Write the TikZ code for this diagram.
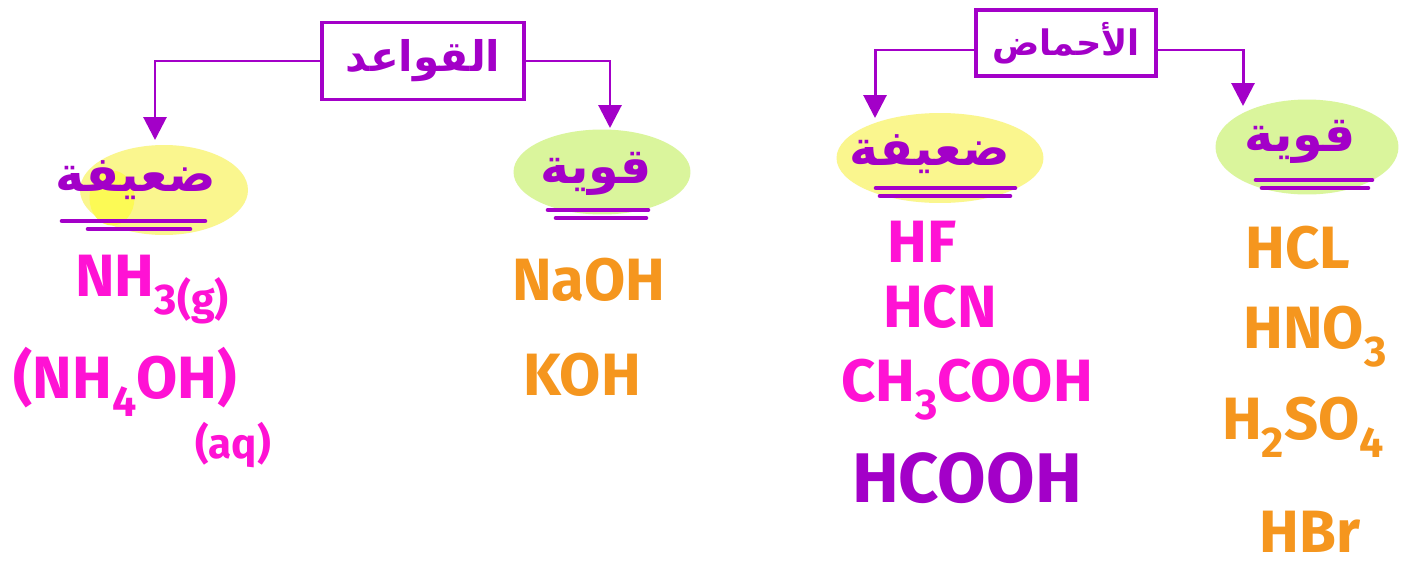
\documentclass[tikz,border=0pt]{standalone}
\usepackage{fontspec}
\setmainfont{Fira Sans}
\newfontfamily\arabicfont[Script=Arabic]{DejaVu Sans}
\TeXXeTstate=1
\usetikzlibrary{arrows.meta,positioning,shapes.geometric}

\definecolor{purpleInk}{HTML}{A300C8}
\definecolor{pinkInk}{HTML}{FF12D4}
\definecolor{orangeInk}{HTML}{F5961E}
\definecolor{yellowMark}{HTML}{FAF68E}
\definecolor{greenMark}{HTML}{DAF59C}

% lowered index for the formulas
\newcommand{\lowIdx}[1]{\raisebox{-0.3em}{\scalebox{0.72}{#1}}}

\tikzset{
	headBox/.style={draw=purpleInk, line width=2pt, text=purpleInk, inner sep=0pt,
		font=\arabicfont\bfseries\fontsize{24}{28}\selectfont},
	markBlob/.style={ellipse, fill=#1, inner sep=0pt},
	kindText/.style={text=purpleInk, inner sep=0pt,
		font=\arabicfont\bfseries\fontsize{28}{32}\selectfont},
	underStroke/.style={purpleInk, line width=2.6pt, line cap=round},
	branch/.style={purpleInk, line width=1.7pt, -{Triangle[length=4.6mm,width=4.6mm]}},
	formula/.style={text=#1, inner sep=0pt, font=\bfseries\fontsize{34}{40}\selectfont},
}

\begin{document}
\begin{tikzpicture}[x=0.02cm, y=-0.02cm]
	
	\useasboundingbox[fill=white] (0,0) rectangle (1404,572);
	
	% the two heads
	\node[headBox, minimum width=4.04cm, minimum height=1.54cm] (bases) at (423,61)
		{\beginR القواعد\endR};
	\node[headBox, minimum width=3.6cm, minimum height=1.32cm,
		font=\arabicfont\bfseries\fontsize{20}{24}\selectfont] (acids) at (1066,43)
		{\beginR الأحماض\endR};
	
	% highlights
	\node[markBlob=yellowMark, minimum width=3.36cm, minimum height=1.8cm] (bWeakMark) at (164,190) {};
	\node[markBlob=yellowMark!60!yellow, minimum width=0.9cm, minimum height=1.1cm] (bWeakSpot) at (112,198) {};
	\node[markBlob=greenMark, minimum width=3.54cm, minimum height=1.7cm] (bStrongMark) at (602,172) {};
	\node[markBlob=yellowMark, minimum width=4.14cm, minimum height=1.8cm] (aWeakMark) at (940,158) {};
	\node[markBlob=greenMark, minimum width=3.66cm, minimum height=1.9cm] (aStrongMark) at (1307,147) {};
	
	% arrow ends
	\coordinate (T1) at (155,140);
	\coordinate (T2) at (610,128);
	\coordinate (T3) at (875,118);
	\coordinate (T4) at (1243,106);
	
	\draw[branch] (bases.west) -| (T1);
	\draw[branch] (bases.east) -| (T2);
	\draw[branch] ([yshift=-0.14cm]acids.west) -| (T3);
	\draw[branch] ([yshift=-0.14cm]acids.east) -| (T4);
	
	% kinds
	\node[kindText] (bWeak) at (136,180) {\beginR ضعيفة\endR};
	\node[kindText] (bStrong) at (596,174) {\beginR قوية\endR};
	\node[kindText] (aWeak) at (930,154) {\beginR ضعيفة\endR};
	\node[kindText] (aStrong) at (1300,142) {\beginR قوية\endR};
	
	\draw[underStroke] (62,221) -- (205,221);
	\draw[underStroke] (88,229) -- (190,229);
	\draw[underStroke] (548,210) -- (648,210);
	\draw[underStroke] (556,218) -- (646,218);
	\draw[underStroke] (876,188) -- (1015,188);
	\draw[underStroke] (880,196) -- (1010,196);
	\draw[underStroke] (1256,180) -- (1372,180);
	\draw[underStroke] (1262,188) -- (1368,188);
	
	% bases
	\node[formula=pinkInk] (nhThree) at (152,290) {NH\lowIdx{3(g)}};
	\node[formula=pinkInk] (nhFour) at (125,382) {(NH\lowIdx{4}OH)};
	\node[formula=pinkInk, font=\bfseries\fontsize{24}{28}\selectfont] (nhAq) at (233,445) {(aq)};
	\node[formula=orangeInk] (naoh) at (589,280) {NaOH};
	\node[formula=orangeInk] (koh) at (582,375) {KOH};
	
	% acids
	\node[formula=pinkInk] (hf) at (922,242) {HF};
	\node[formula=pinkInk] (hcn) at (940,307) {HCN};
	\node[formula=pinkInk] (acetic) at (967,390) {CH\lowIdx{3}COOH};
	\node[formula=purpleInk, font=\bfseries\fontsize{40}{46}\selectfont] (formic) at (967,478) {HCOOH};
	\node[formula=orangeInk] (hcl) at (1298,248) {HCL};
	\node[formula=orangeInk] (nitric) at (1315,337) {HNO\lowIdx{3}};
	\node[formula=orangeInk] (sulfuric) at (1303,427) {H\lowIdx{2}SO\lowIdx{4}};
	\node[formula=orangeInk] (hbr) at (1310,532) {HBr};
	
\end{tikzpicture}
\end{document}
